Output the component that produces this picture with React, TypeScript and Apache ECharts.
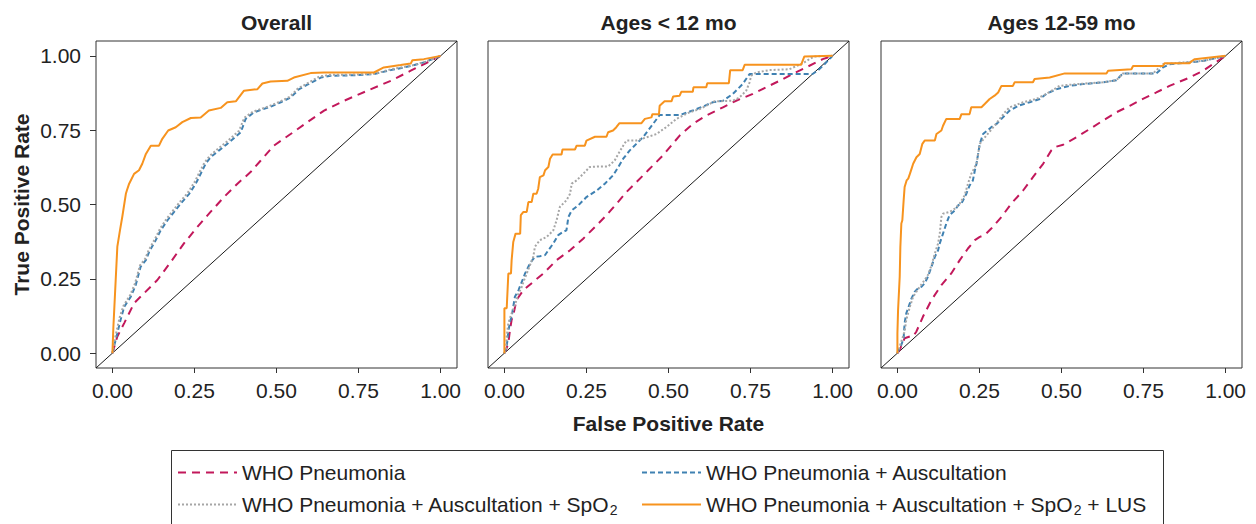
import React, { useEffect, useRef } from "react";
import * as echarts from "echarts";

const FONT = '"Liberation Sans", Arial, Helvetica, sans-serif';

const panelTitles = ["Overall", "Ages < 12 mo", "Ages 12-59 mo"];
const seriesNames = [
  "WHO Pneumonia",
  "WHO Pneumonia + Auscultation",
  "WHO Pneumonia + Auscultation + SpO2",
  "WHO Pneumonia + Auscultation + SpO2 + LUS",
];
const tickValues = [0, 0.25, 0.5, 0.75, 1];
const tickLabels = ["0.00", "0.25", "0.50", "0.75", "1.00"];
const xAxisTitle = "False Positive Rate";
const yAxisTitle = "True Positive Rate";

// ---- Overall ----
const overallWho = [[0,0],[0.015,0.056],[0.036,0.101],[0.066,0.168],[0.096,0.201],[0.137,0.246],[0.178,0.307],[0.218,0.369],[0.259,0.425],[0.299,0.475],[0.340,0.525],[0.381,0.570],[0.421,0.609],[0.452,0.648],[0.492,0.698],[0.543,0.737],[0.594,0.777],[0.645,0.816],[0.706,0.849],[0.777,0.883],[0.848,0.916],[0.909,0.950],[1,1]];
const overallAusc = [[0,0],[0.010,0.045],[0.025,0.112],[0.036,0.156],[0.056,0.190],[0.071,0.229],[0.086,0.291],[0.102,0.313],[0.112,0.341],[0.132,0.380],[0.147,0.413],[0.168,0.447],[0.188,0.475],[0.208,0.503],[0.234,0.536],[0.254,0.570],[0.284,0.637],[0.299,0.659],[0.325,0.682],[0.350,0.704],[0.391,0.743],[0.406,0.788],[0.431,0.810],[0.482,0.829],[0.513,0.844],[0.543,0.860],[0.569,0.888],[0.594,0.903],[0.635,0.927],[0.665,0.933],[0.746,0.935],[0.797,0.939],[0.848,0.952],[0.909,0.966],[0.949,0.978],[1,1]];
const overallSpo2 = [[0,0],[0.008,0.050],[0.022,0.120],[0.034,0.160],[0.054,0.195],[0.069,0.235],[0.084,0.295],[0.100,0.318],[0.110,0.345],[0.130,0.385],[0.145,0.418],[0.165,0.452],[0.185,0.480],[0.205,0.508],[0.230,0.540],[0.250,0.575],[0.280,0.640],[0.296,0.663],[0.320,0.686],[0.345,0.708],[0.386,0.748],[0.402,0.792],[0.428,0.812],[0.478,0.831],[0.510,0.846],[0.540,0.862],[0.565,0.890],[0.590,0.905],[0.630,0.930],[0.660,0.936],[0.740,0.937],[0.800,0.940],[0.850,0.955],[0.910,0.967],[0.950,0.979],[1,1]];
const overallLus = [[0,0],[0.003,0.089],[0.010,0.246],[0.015,0.358],[0.023,0.413],[0.030,0.458],[0.041,0.536],[0.044,0.547],[0.051,0.570],[0.066,0.603],[0.081,0.615],[0.091,0.637],[0.102,0.670],[0.117,0.698],[0.142,0.698],[0.152,0.721],[0.170,0.749],[0.193,0.760],[0.213,0.777],[0.239,0.791],[0.269,0.793],[0.294,0.816],[0.330,0.825],[0.350,0.844],[0.376,0.847],[0.401,0.883],[0.442,0.888],[0.457,0.907],[0.482,0.914],[0.533,0.916],[0.553,0.927],[0.604,0.942],[0.645,0.944],[0.797,0.944],[0.827,0.961],[0.878,0.969],[0.909,0.974],[0.914,0.985],[0.949,0.989],[1,1]];

// ---- Ages < 12 mo ----
const infantWho = [[0,0],[0.005,0.011],[0.012,0.034],[0.017,0.078],[0.022,0.112],[0.027,0.128],[0.037,0.179],[0.058,0.212],[0.088,0.240],[0.119,0.268],[0.159,0.313],[0.200,0.346],[0.240,0.385],[0.281,0.430],[0.311,0.464],[0.342,0.503],[0.372,0.542],[0.402,0.575],[0.438,0.615],[0.483,0.665],[0.534,0.732],[0.574,0.771],[0.615,0.799],[0.666,0.827],[0.706,0.849],[0.757,0.872],[0.797,0.894],[0.838,0.916],[0.878,0.939],[0.919,0.961],[0.970,0.989],[1,1]];
const infantAusc = [[0,0],[0.007,0.022],[0.012,0.073],[0.017,0.106],[0.022,0.123],[0.027,0.156],[0.032,0.190],[0.043,0.212],[0.053,0.240],[0.063,0.268],[0.078,0.302],[0.093,0.324],[0.108,0.326],[0.124,0.330],[0.134,0.346],[0.149,0.369],[0.164,0.397],[0.179,0.408],[0.189,0.413],[0.195,0.458],[0.205,0.480],[0.225,0.497],[0.250,0.525],[0.281,0.547],[0.306,0.570],[0.331,0.598],[0.347,0.626],[0.362,0.654],[0.382,0.682],[0.402,0.704],[0.422,0.726],[0.453,0.771],[0.473,0.801],[0.534,0.801],[0.574,0.816],[0.610,0.832],[0.635,0.844],[0.666,0.849],[0.696,0.872],[0.726,0.905],[0.747,0.939],[0.939,0.939],[0.954,0.950],[0.970,0.966],[1,1]];
const infantSpo2 = [[0,0],[0.005,0.011],[0.007,0.056],[0.012,0.101],[0.022,0.134],[0.032,0.162],[0.037,0.179],[0.043,0.201],[0.053,0.223],[0.058,0.240],[0.068,0.268],[0.078,0.296],[0.088,0.324],[0.093,0.358],[0.108,0.380],[0.129,0.391],[0.149,0.413],[0.159,0.447],[0.169,0.492],[0.189,0.514],[0.200,0.536],[0.205,0.570],[0.220,0.581],[0.240,0.603],[0.260,0.626],[0.291,0.628],[0.316,0.628],[0.336,0.648],[0.347,0.670],[0.362,0.698],[0.372,0.715],[0.402,0.715],[0.433,0.726],[0.463,0.737],[0.493,0.760],[0.524,0.788],[0.564,0.810],[0.595,0.821],[0.625,0.838],[0.640,0.847],[0.696,0.849],[0.716,0.860],[0.737,0.883],[0.747,0.911],[0.752,0.933],[0.767,0.944],[0.807,0.952],[0.868,0.955],[0.899,0.970],[0.914,0.978],[0.929,0.989],[0.944,0.998],[1,1]];
const infantLus = [[0,0],[0,0.151],[0.007,0.151],[0.012,0.268],[0.020,0.268],[0.022,0.313],[0.027,0.374],[0.034,0.402],[0.048,0.402],[0.050,0.464],[0.058,0.475],[0.068,0.475],[0.073,0.508],[0.083,0.508],[0.088,0.536],[0.098,0.536],[0.103,0.553],[0.108,0.592],[0.119,0.598],[0.124,0.615],[0.134,0.626],[0.139,0.654],[0.147,0.668],[0.174,0.668],[0.177,0.685],[0.215,0.685],[0.220,0.698],[0.245,0.698],[0.250,0.715],[0.276,0.728],[0.311,0.728],[0.316,0.743],[0.331,0.749],[0.341,0.760],[0.350,0.773],[0.417,0.773],[0.428,0.788],[0.448,0.793],[0.451,0.804],[0.471,0.804],[0.473,0.832],[0.488,0.847],[0.509,0.847],[0.514,0.863],[0.534,0.866],[0.539,0.879],[0.574,0.879],[0.576,0.894],[0.615,0.894],[0.618,0.908],[0.684,0.908],[0.688,0.952],[0.726,0.952],[0.732,0.970],[0.904,0.970],[0.914,0.998],[1,1]];

// ---- Ages 12-59 mo ----
const childWho = [[0,0],[0.007,0.011],[0.022,0.050],[0.038,0.056],[0.048,0.056],[0.058,0.073],[0.078,0.123],[0.104,0.179],[0.134,0.229],[0.164,0.268],[0.190,0.313],[0.215,0.352],[0.236,0.380],[0.251,0.391],[0.266,0.397],[0.286,0.419],[0.317,0.458],[0.347,0.503],[0.383,0.547],[0.413,0.592],[0.444,0.637],[0.469,0.682],[0.479,0.693],[0.505,0.701],[0.545,0.726],[0.586,0.754],[0.626,0.782],[0.667,0.810],[0.708,0.832],[0.748,0.855],[0.789,0.877],[0.829,0.899],[0.890,0.927],[0.931,0.950],[1,1]];
const childAusc = [[0,0],[0.002,0.006],[0.012,0.028],[0.019,0.050],[0.022,0.101],[0.027,0.134],[0.038,0.168],[0.043,0.184],[0.053,0.207],[0.063,0.218],[0.073,0.223],[0.083,0.235],[0.093,0.257],[0.104,0.291],[0.114,0.324],[0.124,0.346],[0.129,0.369],[0.139,0.402],[0.149,0.436],[0.159,0.464],[0.175,0.480],[0.185,0.497],[0.195,0.503],[0.210,0.536],[0.220,0.564],[0.230,0.581],[0.236,0.615],[0.241,0.637],[0.251,0.704],[0.261,0.737],[0.286,0.760],[0.302,0.771],[0.317,0.788],[0.342,0.816],[0.368,0.832],[0.403,0.844],[0.434,0.855],[0.454,0.872],[0.484,0.888],[0.525,0.899],[0.565,0.905],[0.626,0.911],[0.667,0.918],[0.687,0.941],[0.789,0.941],[0.809,0.961],[0.829,0.972],[0.890,0.978],[0.931,0.983],[1,1]];
const childSpo2 = [[0,0],[0.007,0.022],[0.012,0.039],[0.022,0.073],[0.027,0.112],[0.038,0.156],[0.048,0.190],[0.058,0.207],[0.068,0.223],[0.083,0.246],[0.093,0.263],[0.104,0.296],[0.114,0.335],[0.124,0.369],[0.129,0.402],[0.134,0.458],[0.139,0.469],[0.159,0.475],[0.175,0.486],[0.190,0.503],[0.205,0.531],[0.215,0.570],[0.225,0.603],[0.241,0.637],[0.251,0.704],[0.271,0.732],[0.296,0.765],[0.327,0.810],[0.342,0.827],[0.383,0.844],[0.423,0.855],[0.454,0.872],[0.494,0.899],[0.545,0.905],[0.626,0.911],[0.667,0.918],[0.687,0.941],[0.779,0.941],[0.809,0.972],[0.870,0.978],[0.931,0.983],[1,1]];
const childLus = [[0,0],[0,0.067],[0.002,0.145],[0.007,0.257],[0.009,0.358],[0.012,0.436],[0.015,0.447],[0.019,0.514],[0.022,0.559],[0.028,0.581],[0.033,0.587],[0.038,0.603],[0.043,0.620],[0.048,0.637],[0.053,0.648],[0.058,0.659],[0.068,0.670],[0.076,0.704],[0.083,0.715],[0.114,0.715],[0.119,0.737],[0.134,0.749],[0.139,0.765],[0.149,0.788],[0.190,0.788],[0.195,0.804],[0.220,0.804],[0.225,0.827],[0.256,0.827],[0.266,0.838],[0.281,0.855],[0.296,0.866],[0.307,0.877],[0.317,0.899],[0.352,0.899],[0.357,0.911],[0.413,0.911],[0.418,0.922],[0.464,0.927],[0.510,0.941],[0.637,0.941],[0.642,0.950],[0.713,0.955],[0.718,0.966],[0.809,0.966],[0.814,0.975],[0.890,0.975],[0.895,0.981],[0.906,0.989],[1,1]];

const referenceLine = [[-0.05, -0.05], [1.05, 1.05]];

const panelData = [
  [overallWho, overallAusc, overallSpo2, overallLus],
  [infantWho, infantAusc, infantSpo2, infantLus],
  [childWho, childAusc, childSpo2, childLus],
];

const seriesStyles = [
  { color: "#c2185b", type: [8, 6], width: 2 },
  { color: "#3f81b2", type: [5, 3], width: 2 },
  { color: "#a6a6a6", type: [2, 2], width: 2 },
  { color: "#f7931e", type: "solid", width: 2 },
];

const grids = [
  { left: 96, top: 41, width: 361, height: 327 },
  { left: 488, top: 41, width: 361, height: 327 },
  { left: 881, top: 41, width: 361, height: 327 },
];

const FS = 21;

function buildOption() {
  const labelFmt = (v: number) => {
    const i = tickValues.findIndex((t) => Math.abs(t - v) < 1e-9);
    return i >= 0 ? tickLabels[i] : v.toFixed(2);
  };
  const grid = grids.map((g) => ({
    ...g,
    show: true,
    borderColor: "#333",
    borderWidth: 1,
    backgroundColor: "transparent",
    containLabel: false,
  }));
  const xAxis = grids.map((_, i) => ({
    gridIndex: i,
    type: "value",
    min: -0.05,
    max: 1.05,
    axisLine: { show: false, onZero: false },
    splitLine: { show: false },
    axisTick: { show: true, length: 5, lineStyle: { color: "#333", width: 1 }, customValues: tickValues },
    axisLabel: {
      show: true,
      customValues: tickValues,
      formatter: labelFmt,
      fontSize: FS,
      color: "#222",
      fontFamily: FONT,
      margin: 12,
    },
  }));
  const yAxis = grids.map((_, i) => ({
    gridIndex: i,
    type: "value",
    min: -0.05,
    max: 1.05,
    axisLine: { show: false, onZero: false },
    splitLine: { show: false },
    axisTick: { show: i === 0, length: 6, lineStyle: { color: "#333", width: 1 }, customValues: tickValues },
    axisLabel: {
      show: i === 0,
      customValues: tickValues,
      formatter: labelFmt,
      fontSize: FS,
      color: "#222",
      fontFamily: FONT,
      margin: 15,
    },
  }));
  const series: any[] = [];
  panelData.forEach((curves, p) => {
    series.push({
      type: "line",
      name: "reference",
      xAxisIndex: p,
      yAxisIndex: p,
      data: referenceLine,
      symbol: "none",
      silent: true,
      lineStyle: { color: "#1a1a1a", width: 1 },
      z: 1,
    });
    curves.forEach((d, k) => {
      const s = seriesStyles[k];
      series.push({
        type: "line",
        name: seriesNames[k],
        xAxisIndex: p,
        yAxisIndex: p,
        data: d,
        symbol: "none",
        showSymbol: false,
        lineStyle: { color: s.color, type: s.type, width: s.width },
        itemStyle: { color: s.color },
        z: 2 + k,
      });
    });
  });
  const legendPos = [
    { left: 177, top: 462 },
    { left: 641, top: 462 },
    { left: 177, top: 494 },
    { left: 641, top: 494 },
  ];
  const legend = seriesNames.map((n, k) => ({
    data: [n],
    left: legendPos[k].left,
    top: legendPos[k].top,
    orient: "horizontal",
    padding: 0,
    itemWidth: 59,
    itemHeight: 14,
    selectedMode: false,
    itemStyle: { opacity: 0, borderWidth: 0 },
    formatter: (name: string) => name.replace("SpO2", "SpO{sub|2}"),
    textStyle: {
      fontSize: FS,
      color: "#222",
      fontFamily: FONT,
      rich: {
        sub: { fontSize: 14, color: "#222", fontFamily: FONT, padding: [10, 0, 0, 0] },
      },
    },
  }));
  const textStyleBold = (size: number) => `bold ${size}px ${FONT}`;
  const graphic: any[] = [];
  panelTitles.forEach((t, i) => {
    const g = grids[i];
    graphic.push({
      type: "text",
      x: g.left + g.width / 2,
      y: 22,
      style: {
        text: t,
        font: textStyleBold(FS),
        fill: "#222",
        align: "center",
        verticalAlign: "middle",
        textAlign: "center",
        textVerticalAlign: "middle",
      },
    });
  });
  graphic.push({
    type: "text",
    x: grids[1].left + grids[1].width / 2,
    y: 423,
    style: {
      text: xAxisTitle,
      font: textStyleBold(FS),
      fill: "#222",
      align: "center",
      verticalAlign: "middle",
      textAlign: "center",
      textVerticalAlign: "middle",
    },
  });
  graphic.push({
    type: "text",
    x: 21,
    y: grids[0].top + grids[0].height / 2,
    rotation: Math.PI / 2,
    style: {
      text: yAxisTitle,
      font: textStyleBold(FS),
      fill: "#222",
      align: "center",
      verticalAlign: "middle",
      textAlign: "center",
      textVerticalAlign: "middle",
    },
  });
  graphic.push({
    type: "rect",
    shape: { x: 171.5, y: 450.5, width: 992, height: 90 },
    style: { fill: "none", stroke: "#333", lineWidth: 1 },
    silent: true,
    z: -1,
  });
  return {
    animation: false,
    backgroundColor: "#ffffff",
    grid,
    xAxis,
    yAxis,
    series,
    legend,
    graphic,
  };
}

export default function App() {
  const ref = useRef<HTMLDivElement>(null);
  useEffect(() => {
    if (!ref.current) return;
    const chart = echarts.init(ref.current, null, { renderer: "svg" });
    chart.setOption(buildOption() as any);
    return () => chart.dispose();
  }, []);
  return (
    <div
      ref={ref}
      style={{ position: "absolute", left: 0, top: 0, width: 1256, height: 524 }}
    />
  );
}
